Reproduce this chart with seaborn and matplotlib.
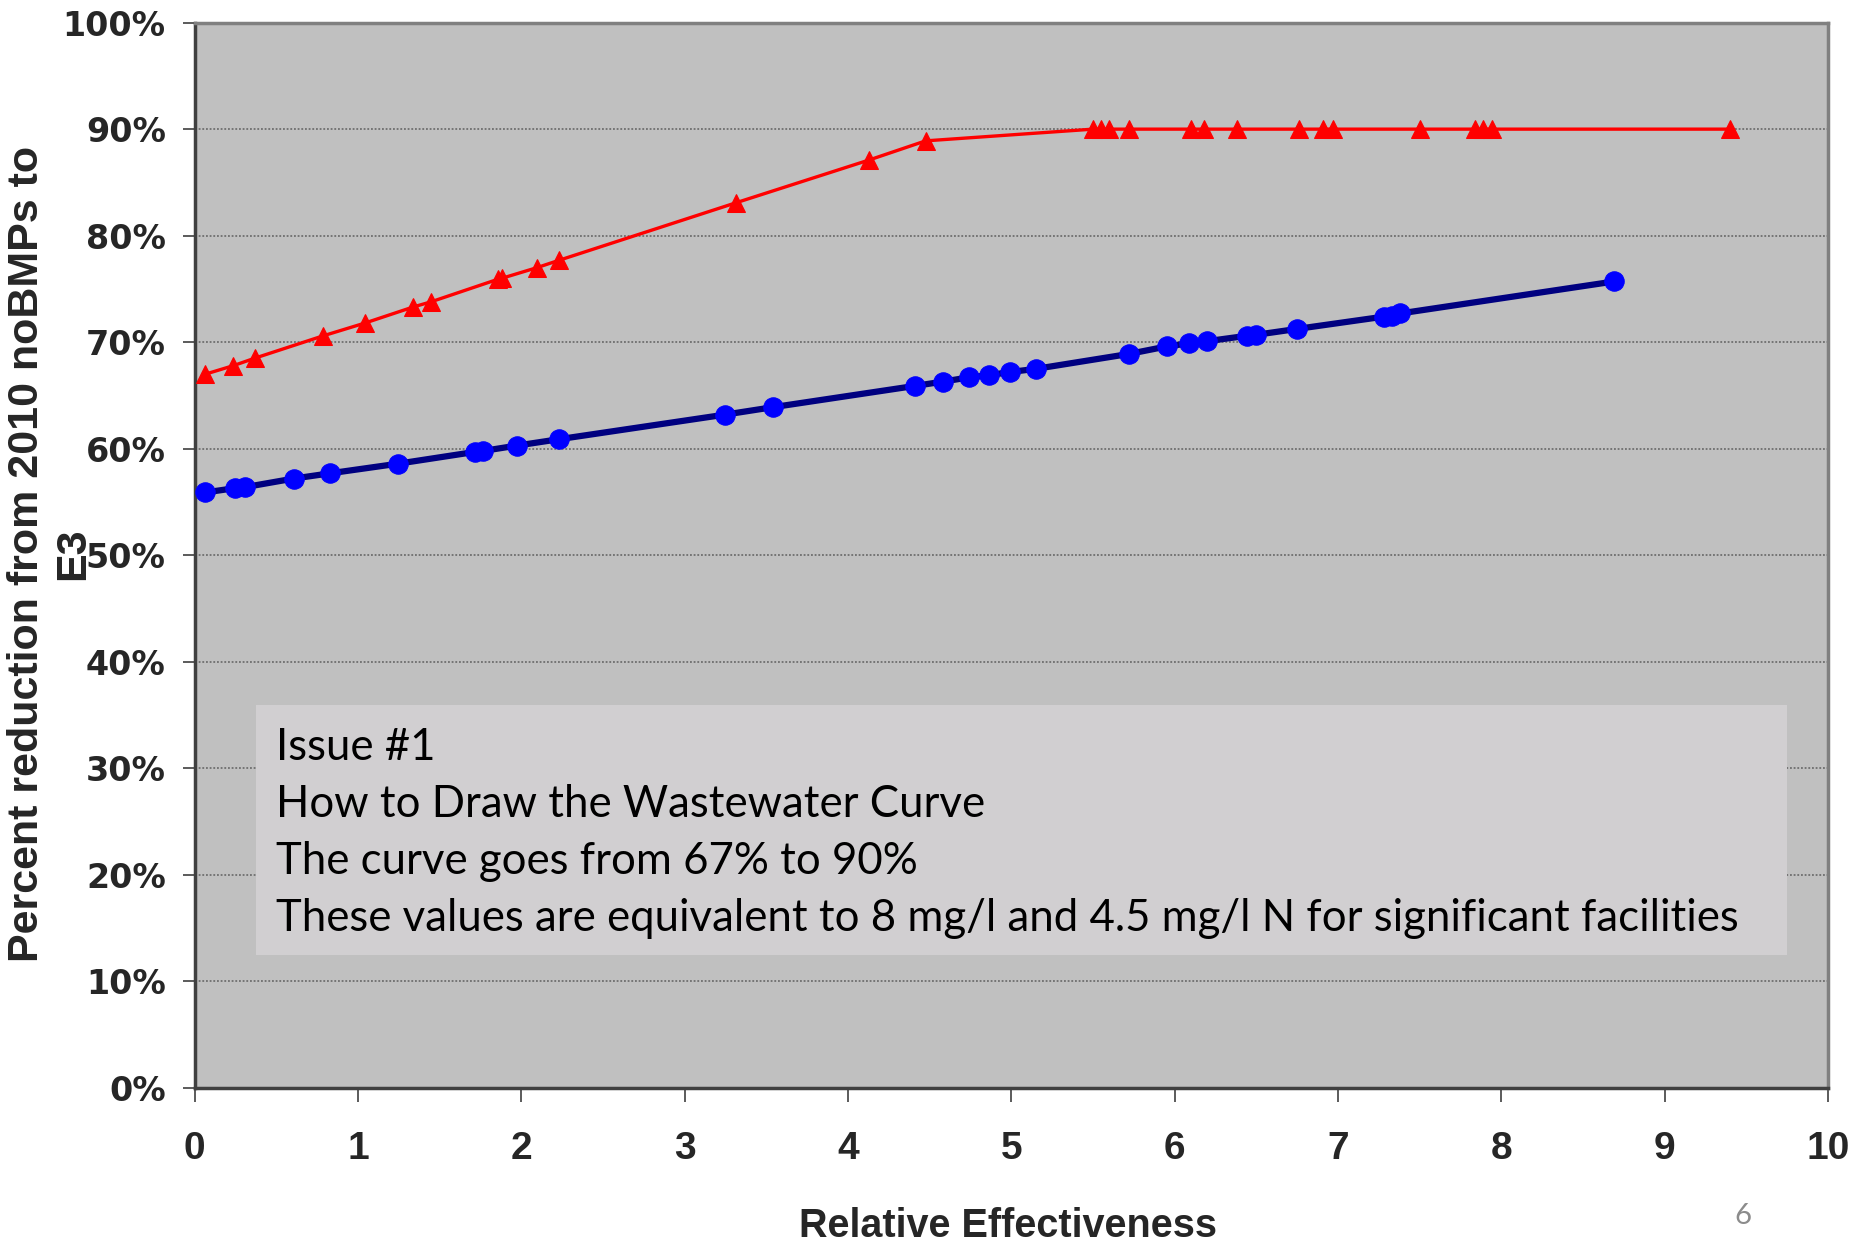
import matplotlib
matplotlib.use("Agg")
import matplotlib.pyplot as plt
import seaborn as sns
import pandas as pd
from matplotlib.patches import Rectangle
from matplotlib.ticker import FuncFormatter

# ---- data ----
red_x = [0.064, 0.236, 0.367, 0.786, 1.042, 1.336, 1.448, 1.854, 1.88, 2.095, 2.232,
         3.316, 4.128, 4.475, 5.50, 5.55, 5.60, 5.72, 6.10, 6.18, 6.38, 6.76, 6.91,
         6.97, 7.50, 7.84, 7.89, 7.94, 9.40]
red_y = [67.0, 67.8, 68.5, 70.6, 71.8, 73.3, 73.8, 75.9, 76.0, 77.0, 77.7,
         83.1, 87.1, 88.9, 90.0, 90.0, 90.0, 90.0, 90.0, 90.0, 90.0, 90.0, 90.0,
         90.0, 90.0, 90.0, 90.0, 90.0, 90.0]

blue_x = [0.064, 0.245, 0.308, 0.605, 0.83, 1.245, 1.714, 1.767, 1.973, 2.232,
          3.245, 3.539, 4.41, 4.58, 4.74, 4.86, 4.99, 5.15, 5.72, 5.95, 6.09,
          6.20, 6.44, 6.50, 6.75, 7.28, 7.33, 7.38, 8.69]
blue_y = [55.9, 56.3, 56.4, 57.2, 57.7, 58.6, 59.7, 59.8, 60.3, 60.9,
          63.2, 63.9, 65.9, 66.3, 66.7, 66.9, 67.2, 67.5, 68.9, 69.6, 69.9,
          70.1, 70.6, 70.7, 71.25, 72.4, 72.5, 72.7, 75.7]

x_ticks = [0, 1, 2, 3, 4, 5, 6, 7, 8, 9, 10]
y_ticks = [0, 10, 20, 30, 40, 50, 60, 70, 80, 90, 100]

box_lines = ["Issue #1",
             "How to Draw the Wastewater Curve",
             "The curve goes from 67% to 90%",
             "These values are equivalent to 8 mg/l and 4.5 mg/l N for significant facilities"]

x_label = "Relative Effectiveness"
y_label = "Percent reduction from 2010 noBMPs to\nE3"
page_number = "6"

# ---- figure ----
sns.set_theme(style="white")
plt.rcParams['font.family'] = ['DejaVu Sans']

W, H = 1864, 1253
fig = plt.figure(figsize=(W / 100, H / 100), dpi=100)
ax = fig.add_axes([194.8 / W, 1 - 1088 / H, (1828 - 194.8) / W, (1088 - 22.6) / H])
ax.set_facecolor('#c0c0c0')

red_df = pd.DataFrame({"x": red_x, "y": red_y})
blue_df = pd.DataFrame({"x": blue_x, "y": blue_y})

sns.lineplot(data=blue_df, x="x", y="y", ax=ax, estimator=None, sort=False,
             color='#000080', linewidth=4.5, marker='o', markersize=14,
             markerfacecolor='#0000ff', markeredgecolor='#0000ff', zorder=3)
sns.lineplot(data=red_df, x="x", y="y", ax=ax, estimator=None, sort=False,
             color='#ff0000', linewidth=2.4, marker='^', markersize=13,
             markerfacecolor='#ff0000', markeredgecolor='#ff0000', zorder=4)

ax.set_xlim(0, 10)
ax.set_ylim(0, 100)
ax.set_xticks(x_ticks)
ax.set_yticks(y_ticks)
ax.yaxis.set_major_formatter(FuncFormatter(lambda v, p: f"{int(round(v))}%"))
ax.set_xlabel("")
ax.set_ylabel("")

ax.yaxis.grid(True, linestyle=(0, (1.2, 1.2)), color='#606060', linewidth=1.1)
ax.xaxis.grid(False)
ax.set_axisbelow(True)

for side, col in [('left', '#404040'), ('bottom', '#404040'), ('top', '#808080'), ('right', '#808080')]:
    ax.spines[side].set_visible(True)
    ax.spines[side].set_color(col)
    ax.spines[side].set_linewidth(2.5)

ax.tick_params(axis='y', which='major', direction='out', length=9, width=1.2,
               color='#404040', pad=12, left=True)
ax.tick_params(axis='x', which='major', direction='out', length=10, width=1.2,
               color='#404040', pad=21, bottom=True)

for lab in ax.get_yticklabels():
    lab.set_fontfamily(['DejaVu Sans'])
    lab.set_fontweight('bold')
    lab.set_fontsize(24)
for lab in ax.get_xticklabels():
    lab.set_fontfamily(['Liberation Sans Narrow', 'Liberation Sans'])
    lab.set_fontweight('bold')
    lab.set_fontsize(28)

# axis titles
fig.text(1008 / W, 1 - 1226 / H, x_label, ha='center', va='center',
         fontsize=28.5, fontweight='bold', family=['Liberation Sans Narrow', 'Liberation Sans'])
fig.text(50 / W, 1 - 554 / H, y_label, ha='center', va='center', rotation=90,
         fontsize=31, fontweight='bold', linespacing=1.2, multialignment='center',
         family=['Liberation Sans Narrow', 'Liberation Sans'])

# annotation box
box = Rectangle((256 / W, 1 - 955 / H), (1787 - 256) / W, (955 - 705) / H,
                transform=fig.transFigure, facecolor='#d1cfd1', edgecolor='none', zorder=5)
fig.add_artist(box)
baselines = [760, 817, 874, 931]
for line, b in zip(box_lines, baselines):
    fig.text(276 / W, 1 - b / H, line, ha='left', va='baseline', fontsize=31.5,
             color='black', family=['Lato', 'DejaVu Sans'], zorder=6)

fig.text(1743 / W, 1 - 1216 / H, page_number, ha='center', va='center', fontsize=21,
         color='#8c8c8c', family=['Lato', 'DejaVu Sans'])

fig.savefig("out.png", dpi=100, facecolor='white')
